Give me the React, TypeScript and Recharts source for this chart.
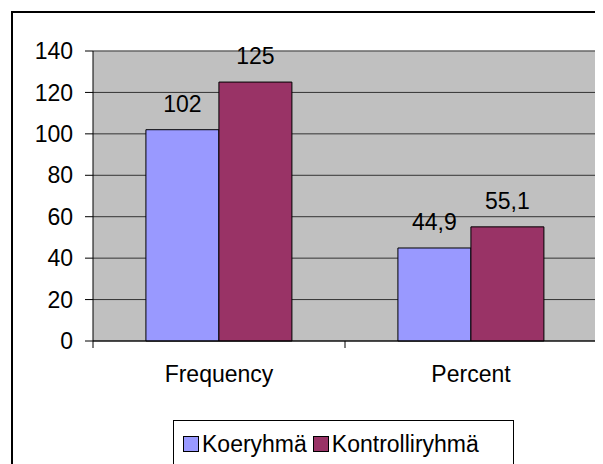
import { BarChart, Bar, XAxis, YAxis, CartesianGrid, LabelList, ReferenceLine } from "recharts";

const categories = ["Frequency", "Percent"];
const koeryhma = [102, 44.9];
const kontrolli = [125, 55.1];
const yTicks = [0, 20, 40, 60, 80, 100, 120, 140];
const seriesNames = ["Koeryhmä", "Kontrolliryhmä"];
const seriesColors = ["#9999FF", "#993366"];

const FONT = "'Liberation Sans', Arial, sans-serif";
const FS = 23;

const data = categories.map((name, i) => ({
  name,
  koe: koeryhma[i],
  kontrolli: kontrolli[i],
}));

const fmt = (v: any) => String(v).replace(".", ",");

// category-axis tick: marks on the category boundaries like Excel does
function XTick(props: any) {
  const { x, y, payload, index, width, visibleTicksCount } = props;
  const half = (width ?? 504) / (visibleTicksCount ?? categories.length) / 2;
  const last = index === (visibleTicksCount ?? categories.length) - 1;
  return (
    <g>
      <line x1={x - half} x2={x - half} y1={y} y2={y + 7} stroke="#000" />
      {last && <line x1={x + half} x2={x + half} y1={y} y2={y + 7} stroke="#000" />}
      <text x={x} y={y + 41} textAnchor="middle" fontSize={FS} fontFamily={FONT} fill="#000">
        {payload.value}
      </text>
    </g>
  );
}

export default function App() {
  return (
    <div style={{ position: "relative", width: 595, height: 456, overflow: "hidden", background: "#fff" }}>
      <div style={{
        position: "absolute", left: 3, top: 3, width: 700, height: 600,
        border: "2px solid #000", boxSizing: "border-box",
      }} />
      <div style={{ position: "absolute", left: 0, top: 0 }}>
        <BarChart width={595} height={456} data={data}
          margin={{ top: 43, right: 6, left: 25, bottom: 73 }}
          barCategoryGap="21%" barGap={0}>
          <CartesianGrid vertical={false} stroke="#333" fill="#C0C0C0" />
          <XAxis dataKey="name" height={50} axisLine={{ stroke: "#000" }}
            tickLine={false} tickSize={0} tickMargin={0} tick={<XTick />} interval={0} />
          <YAxis domain={[0, 140]} ticks={yTicks} width={60} interval={0}
            axisLine={{ stroke: "#000" }} tickLine={{ stroke: "#000" }} tickSize={8} tickMargin={12}
            tick={{ fontSize: FS, fontFamily: FONT, fill: "#000" }} />
          <YAxis yAxisId="r" orientation="right" domain={[0, 140]} width={0} tick={false}
            tickLine={false} axisLine={{ stroke: "#808080" }} />
          <ReferenceLine y={140} stroke="#808080" />
          <Bar dataKey="koe" name={seriesNames[0]} fill={seriesColors[0]} stroke="#000"
            strokeWidth={1} isAnimationActive={false}>
            <LabelList dataKey="koe" position="top" offset={18} formatter={fmt}
              fontSize={FS} fontFamily={FONT} fill="#000" />
          </Bar>
          <Bar dataKey="kontrolli" name={seriesNames[1]} fill={seriesColors[1]} stroke="#000"
            strokeWidth={1} isAnimationActive={false}>
            <LabelList dataKey="kontrolli" position="top" offset={18} formatter={fmt}
              fontSize={FS} fontFamily={FONT} fill="#000" />
          </Bar>
        </BarChart>
      </div>
      <div style={{
        position: "absolute", left: 165, top: 412, width: 341, height: 80,
        border: "1px solid #000", boxSizing: "border-box", background: "#fff",
        display: "flex", alignItems: "flex-start", paddingTop: 11, paddingLeft: 9,
        fontFamily: FONT, fontSize: FS, color: "#000", lineHeight: "24px",
      }}>
        {seriesNames.map((n, i) => (
          <span key={n} style={{ display: "flex", alignItems: "center", marginRight: 6 }}>
            <span style={{
              width: 14, height: 14, background: seriesColors[i], border: "1px solid #000",
              display: "inline-block", marginRight: 3,
            }} />
            {n}
          </span>
        ))}
      </div>
    </div>
  );
}
